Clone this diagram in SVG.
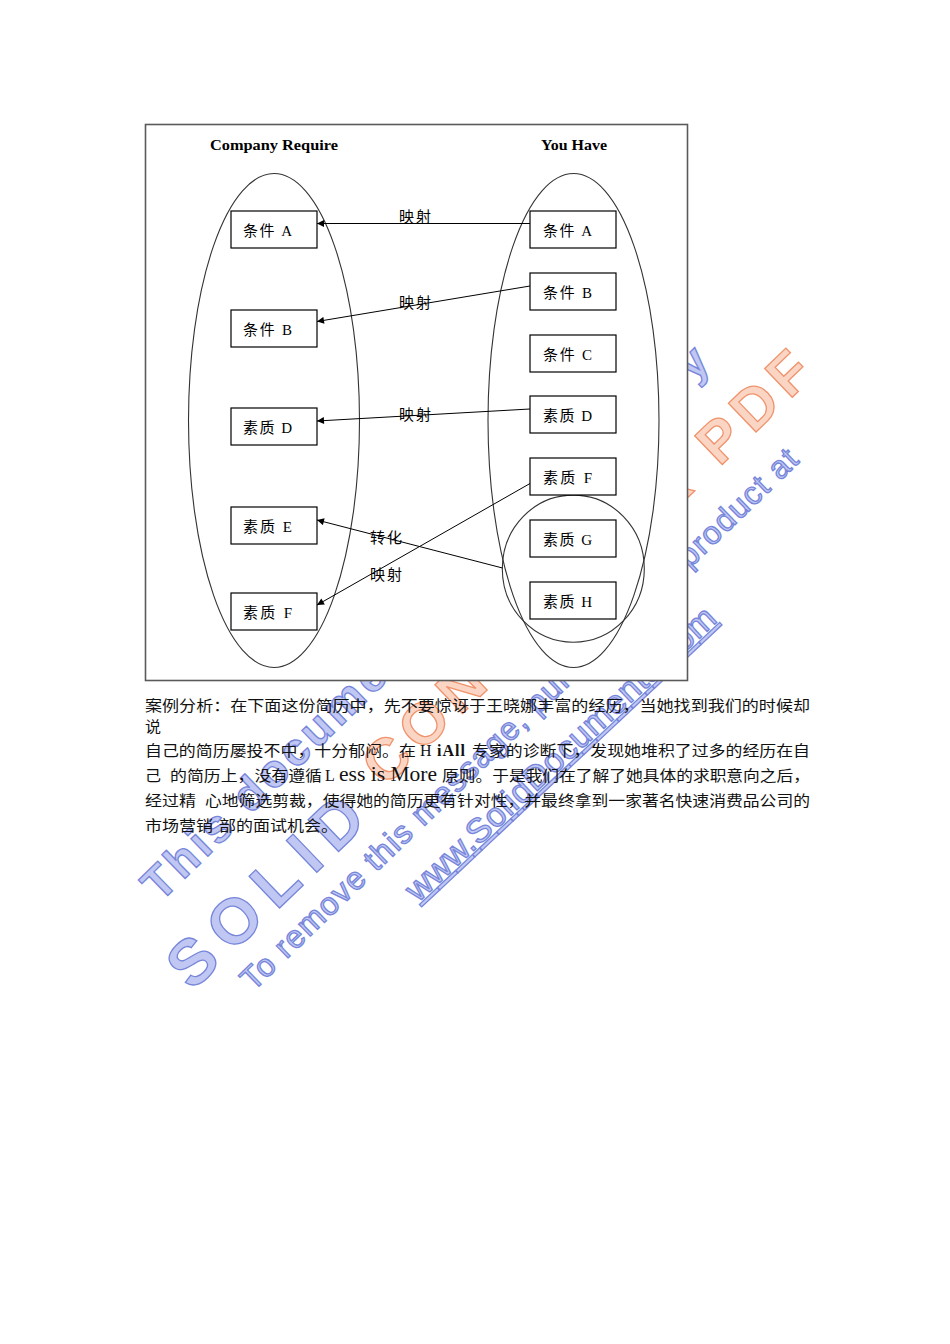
<svg xmlns="http://www.w3.org/2000/svg" width="950" height="1344" viewBox="0 0 950 1344">
<defs>
<style>
.wmb{font-family:"Liberation Sans",Arial,sans-serif;fill:#c0c7f3;stroke:#7786da;stroke-width:1.3}
.wmo{font-family:"Liberation Sans",Arial,sans-serif;fill:#fbd5c4;stroke:#f0936c;stroke-width:1.3}
.box{fill:#fff;stroke:#000;stroke-width:1.2}
.ell{fill:none;stroke:#333;stroke-width:1.1}
.lbl{font-family:"Liberation Serif","Noto Sans CJK SC",serif;font-size:15px;fill:#000}
.cl{font-family:"Noto Sans CJK SC",sans-serif;font-size:15px;fill:#000}
.ttl{font-family:"Liberation Serif",serif;font-size:15px;font-weight:bold;fill:#000}
.par{font-family:"Noto Sans CJK SC",sans-serif;font-size:15px;fill:#111}
.lat{font-family:"Liberation Serif",serif;font-size:16px;fill:#111}
.big{font-family:"Liberation Serif",serif;font-size:20px;fill:#111}
.con{fill:none;stroke:#000;stroke-width:1;marker-end:url(#ah)}
</style>
<marker id="ah" viewBox="0 0 10 10" refX="10" refY="5" markerWidth="9" markerHeight="7" orient="auto" markerUnits="userSpaceOnUse"><path d="M0,0 L10,5 L0,10 z" fill="#000"/></marker>
</defs>
<rect width="950" height="1344" fill="#fff"/>

<g id="watermark">
<text class="wmb" font-size="46" font-weight="bold" transform="translate(160,903) rotate(-44.3)" textLength="771" lengthAdjust="spacing">This document was created by</text>
<text class="wmb" font-size="64" font-weight="bold" transform="translate(192,992) rotate(-43.8)" textLength="245" lengthAdjust="spacing">SOLID</text>
<text class="wmo" font-size="58" font-weight="bold" transform="translate(385,788) rotate(-43.8)" textLength="596" lengthAdjust="spacing">CONVERTER PDF</text>
<text class="wmb" font-size="32" transform="translate(253,992) rotate(-44.1)" textLength="762" lengthAdjust="spacing">To remove this message, purchase the product at</text>
<text class="wmb" font-size="34" text-decoration="underline" transform="translate(418,903) rotate(-43.2)" textLength="412" lengthAdjust="spacing">www.SolidDocuments.com</text>
</g>

<rect id="frame" x="145.5" y="124.5" width="542" height="556" fill="#fff" stroke="#5a5a5a" stroke-width="1.6"/>

<text class="ttl" x="210" y="150" textLength="128" lengthAdjust="spacingAndGlyphs">Company Require</text>
<text class="ttl" x="541" y="150" textLength="66" lengthAdjust="spacingAndGlyphs">You Have</text>

<g id="sets">
<ellipse id="set-company" class="ell" cx="274" cy="420.5" rx="85.5" ry="247"/>
<ellipse id="set-you" class="ell" cx="573.5" cy="420.5" rx="85.5" ry="247"/>
<ellipse id="set-gh" class="ell" cx="573.3" cy="568.7" rx="71" ry="73.6"/>
</g>

<g id="L-A"><rect class="box" x="231" y="211" width="86" height="37"/><text class="lbl" x="243" y="236" textLength="49">条件 A</text></g>
<g id="L-B"><rect class="box" x="231" y="310" width="86" height="37"/><text class="lbl" x="243" y="335" textLength="49">条件 B</text></g>
<g id="L-D"><rect class="box" x="231" y="408" width="86" height="37"/><text class="lbl" x="243" y="433" textLength="49">素质 D</text></g>
<g id="L-E"><rect class="box" x="231" y="507" width="86" height="37"/><text class="lbl" x="243" y="532" textLength="49">素质 E</text></g>
<g id="L-F"><rect class="box" x="231" y="593" width="86" height="37"/><text class="lbl" x="243" y="618" textLength="49">素质 F</text></g>

<g id="R-A"><rect class="box" x="530" y="211" width="86" height="37"/><text class="lbl" x="543" y="236" textLength="49">条件 A</text></g>
<g id="R-B"><rect class="box" x="530" y="273" width="86" height="37"/><text class="lbl" x="543" y="298" textLength="49">条件 B</text></g>
<g id="R-C"><rect class="box" x="530" y="335" width="86" height="37"/><text class="lbl" x="543" y="360" textLength="49">条件 C</text></g>
<g id="R-D"><rect class="box" x="530" y="396" width="86" height="37"/><text class="lbl" x="543" y="421" textLength="49">素质 D</text></g>
<g id="R-F"><rect class="box" x="530" y="458" width="86" height="37"/><text class="lbl" x="543" y="483" textLength="49">素质 F</text></g>
<g id="R-G"><rect class="box" x="530" y="520" width="86" height="37"/><text class="lbl" x="543" y="545" textLength="49">素质 G</text></g>
<g id="R-H"><rect class="box" x="530" y="582" width="86" height="37"/><text class="lbl" x="543" y="607" textLength="49">素质 H</text></g>

<g id="connectors">
<line class="con" x1="530" y1="223.5" x2="317" y2="223.5"/>
<line class="con" x1="530" y1="286" x2="317" y2="321.5"/>
<line class="con" x1="530" y1="409" x2="317" y2="421"/>
<line class="con" x1="502.5" y1="568" x2="317" y2="520"/>
<line class="con" x1="530" y1="483.5" x2="317" y2="605"/>
<text class="cl" x="399" y="222" textLength="32">映射</text>
<text class="cl" x="399" y="308" textLength="32">映射</text>
<text class="cl" x="399" y="420" textLength="32">映射</text>
<text class="cl" x="370" y="543" textLength="32">转化</text>
<text class="cl" x="370" y="580" textLength="32">映射</text>
</g>

<g id="paragraph">
<text class="par" x="145" y="711" textLength="665" lengthAdjust="spacingAndGlyphs">案例分析：在下面这份简历中，先不要惊讶于王晓娜丰富的经历，当她找到我们的时候却</text>
<text class="par" x="145" y="732" textLength="16" lengthAdjust="spacingAndGlyphs">说</text>
<text class="par" x="145" y="756" textLength="271" lengthAdjust="spacingAndGlyphs">自己的简历屡投不中，十分郁闷。在</text>
<text class="lat" x="420" y="756">H</text>
<text class="lat" x="437" y="756" font-weight="bold" textLength="28">iAll</text>
<text class="par" x="472" y="756" textLength="338" lengthAdjust="spacingAndGlyphs">专家的诊断下，发现她堆积了过多的经历在自</text>
<text class="par" x="145" y="781" textLength="16" lengthAdjust="spacingAndGlyphs">己</text>
<text class="par" x="170" y="781" textLength="152" lengthAdjust="spacingAndGlyphs">的简历上，没有遵循</text>
<text class="lat" x="325" y="781">L</text>
<text class="big" x="339" y="781" textLength="98" lengthAdjust="spacingAndGlyphs">ess is More</text>
<text class="par" x="442" y="781" textLength="368" lengthAdjust="spacingAndGlyphs">原则。于是我们在了解了她具体的求职意向之后，</text>
<text class="par" x="145" y="806" textLength="51" lengthAdjust="spacingAndGlyphs">经过精</text>
<text class="par" x="205" y="806" textLength="605" lengthAdjust="spacingAndGlyphs">心地筛选剪裁，使得她的简历更有针对性，并最终拿到一家著名快速消费品公司的</text>
<text class="par" x="145" y="831" textLength="68" lengthAdjust="spacingAndGlyphs">市场营销</text>
<text class="par" x="219" y="831" textLength="119" lengthAdjust="spacingAndGlyphs">部的面试机会。</text>
</g>
</svg>
